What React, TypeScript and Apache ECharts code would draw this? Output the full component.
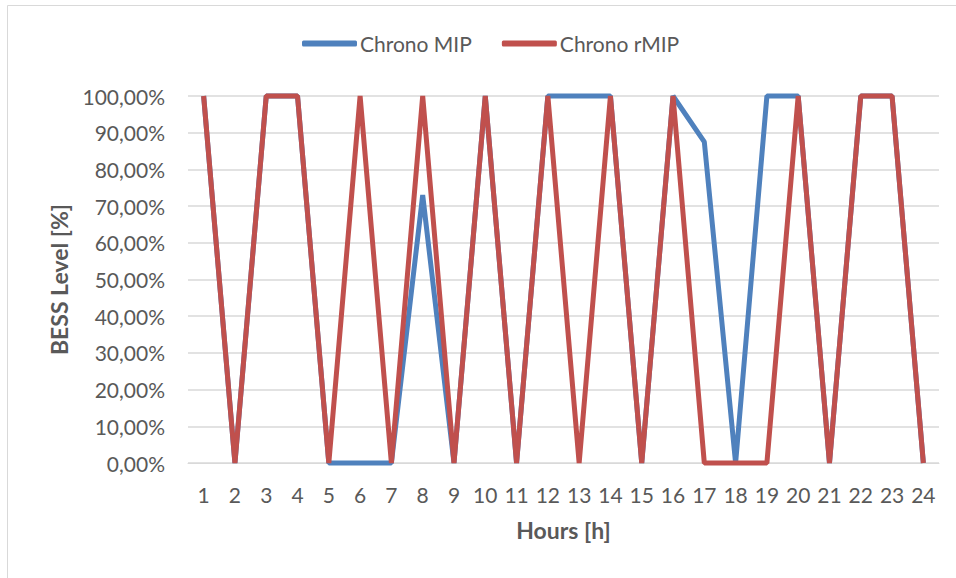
import React, { useEffect, useRef } from "react";
import * as echarts from "echarts";

const hours = ["1","2","3","4","5","6","7","8","9","10","11","12","13","14","15","16","17","18","19","20","21","22","23","24"];
const chronoMIP = [100, 0, 100, 100, 0, 0, 0, 73, 0, 100, 0, 100, 100, 100, 0, 100, 87.5, 0, 100, 100, 0, 100, 100, 0];
const chronoRMIP = [100, 0, 100, 100, 0, 100, 0, 100, 0, 100, 0, 100, 0, 100, 0, 100, 0, 0, 0, 100, 0, 100, 100, 0];
const seriesNames = ["Chrono MIP", "Chrono rMIP"];
const colors = ["#4F81BD", "#C0504D"];

const FONT = "Lato, 'Open Sans', sans-serif";
const TEXT = "#595959";
const GRID = "#D9D9D9";

export default function App() {
  const ref = useRef<HTMLDivElement>(null);
  useEffect(() => {
    if (!ref.current) return;
    const chart = echarts.init(ref.current, null, { renderer: "svg" });
    chart.setOption({
      animation: false,
      backgroundColor: "#ffffff",
      graphic: [
        {
          type: "rect",
          shape: { x: 7.5, y: 5.5, width: 1000, height: 700 },
          style: { fill: "none", stroke: GRID, lineWidth: 1 },
          silent: true,
        },
      ],
      legend: {
        left: 297,
        top: 28,
        itemWidth: 55,
        itemHeight: 6,
        itemGap: 30,
        icon: "roundRect",
        textStyle: { fontFamily: FONT, fontSize: 21, color: TEXT, padding: [0, 0, 0, -2] },
        data: seriesNames,
      },
      grid: { left: 188, right: 17, top: 96, bottom: 115, containLabel: false },
      xAxis: {
        type: "category",
        data: hours,
        boundaryGap: true,
        name: "Hours [h]",
        nameLocation: "middle",
        nameGap: 55,
        nameTextStyle: { fontFamily: FONT, fontSize: 23, fontWeight: "bold", color: TEXT },
        axisLine: { show: true, lineStyle: { color: GRID, width: 1 } },
        axisTick: { show: false },
        axisLabel: { fontFamily: FONT, fontSize: 21, color: TEXT, margin: 21, interval: 0 },
        splitLine: { show: false },
      },
      yAxis: {
        type: "value",
        min: 0,
        max: 100,
        interval: 10,
        name: "BESS Level [%]",
        nameLocation: "middle",
        nameGap: 118,
        nameTextStyle: { fontFamily: FONT, fontSize: 23, fontWeight: "bold", color: TEXT },
        axisLine: { show: false },
        axisTick: { show: false },
        axisLabel: {
          fontFamily: FONT,
          fontSize: 21,
          color: TEXT,
          margin: 23,
          formatter: (v: number) => v.toFixed(2).replace(".", ",") + "%",
        },
        splitLine: { show: true, lineStyle: { color: GRID, width: 1.5 } },
      },
      series: [
        {
          name: seriesNames[0],
          type: "line",
          data: chronoMIP,
          symbol: "none",
          clip: false,
          color: colors[0],
          lineStyle: { width: 5, color: colors[0], join: "bevel" },
          z: 2,
        },
        {
          name: seriesNames[1],
          type: "line",
          data: chronoRMIP,
          symbol: "none",
          clip: false,
          color: colors[1],
          lineStyle: { width: 5, color: colors[1], join: "bevel" },
          z: 3,
        },
      ],
    });
    return () => chart.dispose();
  }, []);
  return (
    <div
      ref={ref}
      style={{ position: "fixed", left: 0, top: 0, width: 956, height: 578, background: "#fff" }}
    />
  );
}
